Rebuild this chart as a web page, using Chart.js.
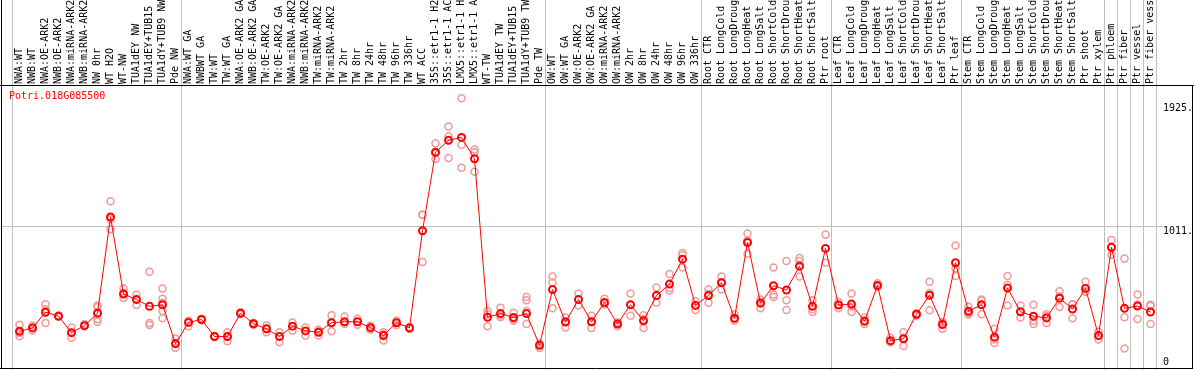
<!DOCTYPE html>
<html>
<head>
<meta charset="utf-8">
<script src="https://cdn.jsdelivr.net/npm/chart.js@4"></script>
<style>
  html, body { margin: 0; padding: 0; background: #fff; }
  canvas { display: block; }
</style>
</head>
<body>
<canvas id="expressionChart" width="1194" height="370"></canvas>
<script>
const geneName = 'Potri.018G085500';

const samples = [
    'NWA:WT', 'NWB:WT', 'NWA:OE-ARK2', 'NWB:OE-ARK2', 'NWA:miRNA-ARK2', 'NWB:miRNA-ARK2',
    'NW 0hr', 'WT H2O', 'WT-NW', 'TUA1dEY NW', 'TUA1dEY+TUB15 NW', 'TUA1dY+TUB9 NW', 'Pde NW',
    'NWA:WT GA', 'NWBWT GA', 'TW:WT', 'TW:WT GA', 'NWA:OE-ARK2 GA', 'NWB:OE-ARK2 GA',
    'TW:OE-ARK2', 'TW:OE-ARK2 GA', 'NWA:miRNA-ARK2 GA', 'NWB:miRNA-ARK2 GA', 'TW:miRNA-ARK2',
    'TW:miRNA-ARK2 GA', 'TW 2hr', 'TW 8hr', 'TW 24hr', 'TW 48hr', 'TW 96hr', 'TW 336hr',
    'WT ACC', '35S::etr1-1 H2O', '35S::etr1-1 ACC', 'LMX5::etr1-1 H2O', 'LMX5::etr1-1 ACC',
    'WT-TW', 'TUA1dEY TW', 'TUA1dEY+TUB15 TW', 'TUA1dY+TUB9 TW', 'Pde TW',
    'OW:WT', 'OW:WT GA', 'OW:OE-ARK2', 'OW:OE-ARK2 GA', 'OW:miRNA-ARK2', 'OW:miRNA-ARK2 GA',
    'OW 2hr', 'OW 8hr', 'OW 24hr', 'OW 48hr', 'OW 96hr', 'OW 336hr',
    'Root CTR', 'Root LongCold', 'Root LongDrought', 'Root LongHeat', 'Root LongSalt',
    'Root ShortCold', 'Root ShortDrought', 'Root ShortHeat', 'Root ShortSalt', 'Ptr root',
    'Leaf CTR', 'Leaf LongCold', 'Leaf LongDrought', 'Leaf LongHeat', 'Leaf LongSalt',
    'Leaf ShortCold', 'Leaf ShortDrought', 'Leaf ShortHeat', 'Leaf ShortSalt', 'Ptr leaf',
    'Stem CTR', 'Stem LongCold', 'Stem LongDrought', 'Stem LongHeat', 'Stem LongSalt',
    'Stem ShortCold', 'Stem ShortDrought', 'Stem ShortHeat', 'Stem ShortSalt', 'Ptr shoot',
    'Ptr xylem', 'Ptr phloem', 'Ptr fiber', 'Ptr vessel', 'Ptr fiber vessel'
];

// index of the first sample of every group (a grey separator is drawn before each)
const groupStarts = [0, 13, 41, 53, 63, 73, 84, 85, 86, 87];

// mean expression per sample
const means = [
    222, 247, 364, 335, 212, 264, 357, 1075, 500, 459, 408, 420, 130,
    288, 310, 183, 183, 357, 278, 240, 183, 260, 225, 215, 286, 293, 293, 249,
    190, 286, 247, 972, 1558, 1646, 1668, 1509, 327, 354, 325, 354, 117,
    533, 291, 459, 293, 437, 276, 420, 300, 489, 574, 760, 415,
    489, 584, 320, 884, 432, 562, 530, 708, 408, 840,
    418, 425, 298, 564, 152, 166, 349, 491, 273, 733,
    371, 420, 178, 544, 368, 335, 322, 469, 388, 542, 190,
    848, 393, 410, 366
];

// individual replicate values per sample
const replicates = [
    [271, 210, 185], [264, 247, 227], [423, 386, 283], [340, 335, 330], [250, 212, 174],
    [276, 259], [415, 403, 313, 293], [1192, 1057, 984], [542, 508, 471], [496, 418],
    [667, 283, 269], [542, 464, 434, 374, 320], [166, 130, 97],
    [300, 259], [315, 305], [186, 180], [215, 183, 147], [364, 350], [286, 270],
    [265, 240, 215], [215, 141], [288, 227], [251, 190], [234, 220, 190], [342, 222],
    [332, 276], [315, 293, 271], [264, 234], [215, 200, 154], [300, 269], [254, 240],
    [1094, 1089, 738], [1624, 1550, 1507], [1749, 1675, 1514], [1961, 1614, 1441],
    [1577, 1558, 1412], [373, 349, 259], [398, 337, 327], [361, 313, 301],
    [478, 454, 374, 276], [130, 124, 97],
    [630, 586, 393], [325, 297, 251], [503, 415], [337, 295, 247], [464, 425, 423],
    [288, 281, 259], [503, 337], [342, 311, 247], [549, 434], [650, 545, 527],
    [806, 789, 698], [447, 381],
    [533, 500, 434], [630, 589, 533], [349, 311, 300], [952, 899, 801], [459, 444, 393],
    [698, 496, 478], [747, 454, 381], [769, 747, 630], [454, 386, 366], [943, 733],
    [440, 421, 393], [503, 406, 366], [325, 293, 276], [581, 559, 552], [174, 141, 141],
    [215, 171, 112], [355, 355, 337], [591, 508, 379], [291, 288, 240], [862, 691, 635],
    [405, 361, 347], [459, 452, 349], [240, 160, 134], [635, 569, 415], [415, 364, 325],
    [420, 300, 276], [349, 334, 283], [520, 484, 403], [423, 421, 320], [591, 518, 517],
    [219, 190, 161],
    [903, 848, 793], [764, 327, 93], [496, 421, 313], [420, 410, 276]
];

const yTicks = [0, 1011, 1925];
const yTickLabels = ['0', '1011.', '1925.'];

const FONT = 'DejaVu Sans Mono';

const maxReps = Math.max(...replicates.map(r => r.length));
const repDatasets = [];
for (let k = 0; k < maxReps; k++) {
    repDatasets.push({
        label: 'replicate ' + (k + 1),
        data: replicates.map(r => (r[k] === undefined ? null : r[k])),
        showLine: false,
        pointRadius: 3.5,
        pointBorderWidth: 1.5,
        pointBorderColor: '#f09a9a',
        pointBackgroundColor: 'rgba(0,0,0,0)',
        order: 1
    });
}

/* grey separators + black frame + value labels, all placed from the chart scales */
const framePlugin = {
    id: 'frame',
    beforeDraw(chart) {
        const { ctx, scales: { x, y } } = chart;
        const H = chart.height;
        ctx.save();
        ctx.strokeStyle = '#c0c0c0';
        ctx.lineWidth = 1;
        ctx.beginPath();
        groupStarts.concat([samples.length]).forEach(i => {
            const px = Math.round(x.getPixelForValue(i) - 8) + 0.5;
            ctx.moveTo(px, 0);
            ctx.lineTo(px, H);
        });
        const gy = Math.round(y.getPixelForValue(1011)) + 0.5;
        ctx.moveTo(2, gy);
        ctx.lineTo(1163, gy);
        ctx.stroke();
        ctx.restore();
    },
    afterDraw(chart) {
        const { ctx, scales: { y } } = chart;
        const W = chart.width;
        ctx.save();
        ctx.strokeStyle = '#000';
        ctx.lineWidth = 1;
        ctx.beginPath();
        ctx.moveTo(1.5, 0); ctx.lineTo(1.5, 369);
        ctx.moveTo(0, 85.5); ctx.lineTo(W, 85.5);
        ctx.moveTo(W - 1.5, 85); ctx.lineTo(W - 1.5, 369);
        ctx.moveTo(0, 368.5); ctx.lineTo(W - 1, 368.5);
        ctx.stroke();

        ctx.font = '10px "' + FONT + '"';
        ctx.textAlign = 'left';
        ctx.textBaseline = 'alphabetic';
        ctx.fillStyle = '#000';
        yTicks.forEach((v, i) => {
            const py = Math.min(y.getPixelForValue(v) + 8, 365);
            ctx.fillText(yTickLabels[i], 1163, py);
        });

        ctx.fillStyle = '#ff0000';
        ctx.fillText(geneName, 9, 99);
        ctx.restore();
    }
};

const config = {
    type: 'line',
    data: {
        labels: samples,
        datasets: [{
            label: geneName,
            data: means,
            borderColor: '#ff0000',
            borderWidth: 1,
            tension: 0,
            pointRadius: 3.5,
            pointBorderWidth: 2,
            pointBorderColor: '#ff0000',
            pointBackgroundColor: 'rgba(0,0,0,0)',
            order: 0
        }, ...repDatasets]
    },
    options: {
        responsive: false,
        animation: false,
        devicePixelRatio: 1,
        layout: { padding: { left: 13, right: 37, top: 0, bottom: 1 } },
        scales: {
            x: {
                position: 'top',
                offset: true,
                grid: { display: false, drawTicks: false },
                border: { display: false },
                ticks: {
                    autoSkip: false,
                    minRotation: 90,
                    maxRotation: 90,
                    padding: 1,
                    labelOffset: 12,
                    color: '#000',
                    font: { family: FONT, size: 10 }
                },
                afterFit(scale) { scale.height = 85; }
            },
            y: {
                display: false,
                min: -22,
                max: 2059
            }
        },
        plugins: {
            legend: { display: false },
            tooltip: { enabled: false }
        }
    },
    plugins: [framePlugin]
};

var expressionChart = new Chart(document.getElementById('expressionChart'), config);
</script>
</body>
</html>
